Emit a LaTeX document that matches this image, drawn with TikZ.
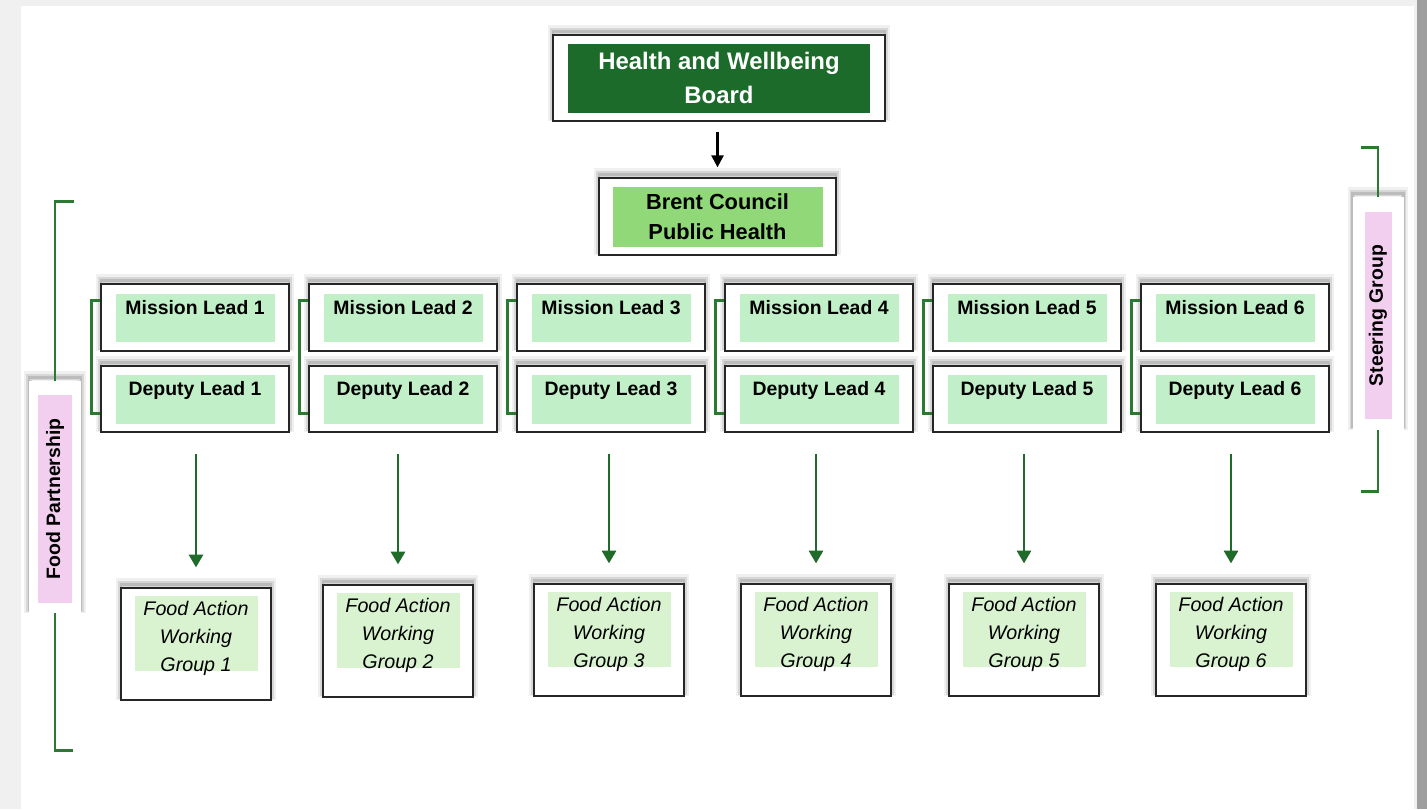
\documentclass[tikz,border=0pt]{standalone}
\usepackage{fontspec}
\setmainfont{Liberation Sans}
\usepackage{tikz}
\usetikzlibrary{positioning,arrows.meta,calc}

\definecolor{boardgreen}{HTML}{1D6B2B}
\definecolor{councilgreen}{HTML}{90D878}
\definecolor{leadgreen}{HTML}{C1F0C8}
\definecolor{groupgreen}{HTML}{D9F2D0}
\definecolor{sidepink}{HTML}{F2CFEE}
\definecolor{bracketgreen}{HTML}{2A7A33}
\definecolor{arrowgreen}{HTML}{1E6B2A}

% one pixel of the layout
\newcommand{\pxu}{0.025cm}

\tikzset{
  softshadow/.style={
      preaction={draw=black, draw opacity=0.06, line width=7pt, transform canvas={yshift=3.5pt}},
      preaction={draw=black, draw opacity=0.10, line width=4pt, transform canvas={yshift=3pt}},
      preaction={draw=black, draw opacity=0.12, line width=2pt, transform canvas={yshift=2.5pt}}},
  outerbox/.style={draw=black!85, line width=0.9pt, fill=white, inner sep=0pt, softshadow},
  leadbox/.style={outerbox, minimum width=188*\pxu, minimum height=67*\pxu},
  leadfill/.style={fill=leadgreen, inner sep=0pt, minimum width=159*\pxu, minimum height=48*\pxu},
  leadtext/.style={anchor=base, inner sep=0pt, font=\bfseries\fontsize{13.8}{16}\selectfont},
  groupbox/.style={outerbox, minimum width=150*\pxu, minimum height=112*\pxu},
  groupfill/.style={fill=groupgreen, inner sep=0pt, minimum width=123*\pxu, minimum height=75*\pxu},
  grouptext/.style={inner sep=0pt, align=center, font=\itshape\fontsize{14}{19.9}\selectfont},
  sidebox/.style={fill=white, inner sep=0pt, softshadow},
  sidefill/.style={fill=sidepink, inner sep=0pt, rotate=90,
      font=\bfseries\fontsize{13.8}{16}\selectfont},
  bracket/.style={draw=bracketgreen, line width=1.8pt},
  downarrow/.style={draw=arrowgreen, line width=1.8pt, -{Triangle[width=10pt,length=9pt]}},
}

\begin{document}
\begin{tikzpicture}[x=\pxu, y=-\pxu]
% Page and frame
\useasboundingbox (0,0) rectangle (1427,809);
\fill[black!6] (0,0) rectangle (1427,809);
\fill[black!38] (1417,0) rectangle (1427,809);
\fill[white] (21,6) rectangle (1414,809);

% Board and council
\node[outerbox, minimum width=332*\pxu, minimum height=86*\pxu] (hwb) at (719,78) {};
\node[fill=boardgreen, inner sep=0pt, minimum width=302*\pxu, minimum height=69*\pxu,
      align=center, text=white, font=\bfseries\fontsize{17}{24.5}\selectfont] (hwbf) at (hwb)
      {Health and Wellbeing\\Board};
\node[outerbox, minimum width=237*\pxu, minimum height=77*\pxu] (bcp) at (717.5,216.5) {};
\node[fill=councilgreen, inner sep=0pt, minimum width=210*\pxu, minimum height=60*\pxu,
      align=center, font=\bfseries\fontsize{15.5}{21.3}\selectfont] (bcpf) at (bcp)
      {Brent Council\\Public Health};
\draw[line width=1.7pt, -{Triangle[width=8.5pt,length=8.5pt]}, shorten <=0.25cm, shorten >=0.25cm]
  (hwb.south -| bcp.north) -- (bcp.north);

% Mission and deputy leads
\foreach \i in {1,...,6} {
  \pgfmathsetmacro\cx{195+208*(\i-1)}
  \node[leadbox] (m\i) at (\cx,317.5) {};
  \node[leadfill] (m\i f) at (m\i) {};
  \node[leadtext] (m\i t) at ($(m\i f.north)+(0,21)$) {Mission Lead \i};
  \node[leadbox, minimum height=66*\pxu] (d\i) at (\cx,399) {};
  \node[leadfill, minimum height=49*\pxu] (d\i f) at (d\i) {};
  \node[leadtext] (d\i t) at ($(d\i f.north)+(0,21)$) {Deputy Lead \i};
  \draw[bracket] ($(m\i.north west)+(0,17)$) -- ++(-9,0) |- ($(d\i.south west)+(0,-19)$);
}

% Working groups
\foreach \i/\gx/\gy in {1/196/644, 2/398/641, 3/609/640, 4/816/640, 5/1024/640, 6/1231/640} {
  \node[groupbox] (w\i) at (\gx,\gy) {};
  \node[groupfill] (w\i f) at ($(w\i)+(0,-11)$) {};
  \node[grouptext] (w\i t) at ($(w\i f)+(0,5)$) {Food Action\\Working\\Group \i};
  \draw[downarrow, shorten <=0.525cm, shorten >=0.5cm] (d\i.south -| w\i.north) -- (w\i.north);
}

% Food Partnership
\node[sidebox, minimum width=52*\pxu, minimum height=232*\pxu] (fpw) at (55,497) {};
\node[sidefill, minimum width=208*\pxu, minimum height=34*\pxu] (fpf) at (55,499) {Food Partnership};
\draw[bracket] (fpw.north) -- ++(0,-179) -- ++(19,0);
\draw[bracket] (fpw.south) -- ++(0,137) -- ++(18,0);

% Steering Group
\node[sidebox, minimum width=51*\pxu, minimum height=233*\pxu] (sgw) at (1378,313.5) {};
\node[sidefill, minimum width=207*\pxu, minimum height=27*\pxu] (sgf) at (1378,315.5) {Steering Group};
\draw[bracket] (sgw.north) -- ++(0,-49) -- ++(-17,0);
\draw[bracket] (sgw.south) -- ++(0,61) -- ++(-17,0);
\end{tikzpicture}
\end{document}
